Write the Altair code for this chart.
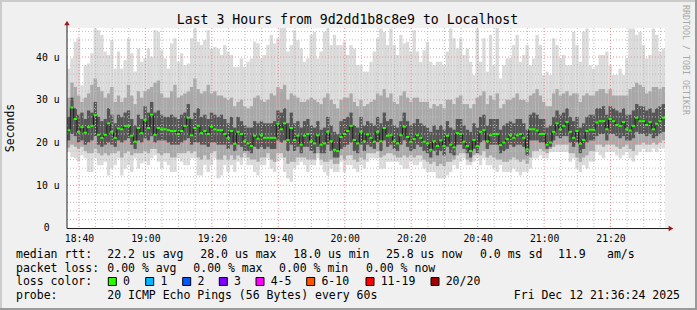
import altair as alt
import pandas as pd

# ---------------- data ----------------
START = 36.4          # minutes after 18:00  (18:36:24)
SPAN = 180            # 3 hours
Y_MAX = 46.8          # top of the value axis (microseconds)

median = [
    22.9, 28.2, 25.5, 22.5, 23.6, 22.3, 23.6, 23.9, 26.4, 21.8, 21.1, 21.8, 24.5, 22.5, 21.1,
    23.3, 23.1, 23.9, 23.9, 21.6, 20.2, 23.4, 22.2, 25.3, 23.4, 26.5, 21.8, 23.4, 23.1, 23.1,
    22.9, 22.7, 22.7, 22.0, 22.7, 23.9, 25.8, 21.7, 23.4, 23.9, 22.2, 22.7, 22.0, 23.7, 23.1,
    22.9, 22.9, 22.0, 21.1, 22.7, 19.7, 22.5, 22.0, 20.3, 19.8, 19.2, 21.6, 20.9, 21.7, 21.1,
    21.1, 21.1, 21.1, 24.4, 23.1, 24.5, 20.6, 23.4, 20.6, 21.6, 19.5, 21.6, 22.0, 20.3, 19.8,
    21.7, 19.5, 19.8, 22.5, 20.3, 18.3, 18.0, 21.3, 22.0, 22.7, 23.9, 20.6, 19.8, 22.5, 20.3,
    21.9, 21.1, 20.2, 22.5, 20.3, 23.4, 21.6, 21.7, 20.3, 19.8, 21.7, 23.7, 21.3, 20.2, 20.8,
    21.7, 21.1, 20.2, 19.8, 18.3, 20.3, 19.2, 20.5, 19.2, 21.6, 19.5, 18.9, 22.2, 22.0, 20.2,
    19.2, 18.0, 20.6, 19.2, 22.5, 22.9, 20.3, 21.7, 22.0, 22.0, 19.4, 20.0, 20.8, 21.7, 21.1,
    21.7, 22.0, 21.1, 18.4, 23.1, 23.1, 22.8, 22.0, 22.0, 19.5, 20.0, 22.5, 24.5, 23.1, 23.9,
    24.8, 22.5, 21.1, 22.7, 19.7, 20.6, 22.7, 23.0, 23.0, 24.7, 25.0, 25.0, 23.1, 25.5, 25.0,
    24.1, 23.9, 24.8, 23.1, 22.8, 23.9, 25.8, 25.0, 25.0, 24.1, 24.8, 23.1, 24.4, 25.0, 25.8,
]

smoke_max = [
    37.3, 39.7, 43.6, 44.4, 33.4, 38.1, 38.5, 40.9, 46.7, 46.3, 45.2, 41.3, 40.5, 44.0, 37.3,
    41.3, 37.3, 39.3, 44.4, 40.9, 36.6, 42.0, 38.9, 39.7, 42.0, 40.1, 46.3, 45.9, 41.6, 39.7,
    37.3, 43.2, 44.4, 38.9, 40.9, 38.1, 38.5, 44.4, 46.7, 43.6, 42.8, 44.0, 46.3, 42.0, 42.4,
    42.0, 40.5, 42.8, 41.3, 40.5, 37.7, 37.7, 39.7, 37.7, 38.9, 39.7, 43.6, 43.2, 39.7, 40.5,
    42.8, 45.2, 43.2, 44.4, 46.8, 46.8, 41.3, 42.8, 46.3, 44.0, 42.0, 38.9, 39.7, 45.2, 45.9,
    39.7, 41.3, 45.9, 46.7, 42.8, 45.2, 42.8, 42.8, 43.6, 40.5, 42.8, 42.0, 38.1, 38.1, 36.6,
    36.6, 38.9, 41.3, 44.4, 46.7, 45.9, 42.8, 46.7, 42.8, 40.5, 45.2, 43.2, 43.6, 41.3, 46.3,
    41.3, 38.9, 41.6, 43.6, 38.9, 38.1, 38.9, 38.9, 38.1, 41.3, 46.7, 44.4, 42.0, 44.4, 40.5,
    42.0, 38.9, 35.8, 46.7, 38.9, 44.4, 36.6, 45.2, 38.1, 46.8, 35.0, 38.1, 39.7, 39.7, 42.8,
    45.2, 38.9, 40.5, 42.8, 38.1, 39.7, 45.2, 42.8, 35.8, 36.6, 35.8, 44.4, 42.8, 39.7, 40.5,
    38.1, 38.1, 45.9, 42.8, 38.9, 45.9, 46.7, 38.1, 37.3, 38.1, 40.5, 40.5, 41.3, 38.1, 35.8,
    35.8, 37.3, 35.8, 39.7, 46.7, 46.7, 45.2, 45.9, 42.8, 39.7, 40.5, 46.7, 45.2, 41.3, 42.0,
]

smoke_min = [
    17.8, 16.6, 16.3, 15.5, 17.0, 16.3, 13.1, 13.1, 16.3, 14.7, 14.7, 15.5, 12.3, 13.9, 14.7,
    16.3, 12.3, 13.9, 14.7, 13.1, 16.3, 13.9, 15.1, 15.5, 14.7, 16.3, 17.0, 15.5, 13.9, 15.5,
    14.7, 13.1, 13.1, 16.3, 15.5, 14.7, 14.7, 16.3, 16.3, 12.3, 12.3, 14.7, 13.1, 14.7, 16.3,
    11.6, 12.3, 14.7, 13.1, 14.7, 13.1, 15.5, 14.7, 16.3, 14.7, 14.7, 13.1, 12.3, 14.7, 14.7,
    16.3, 13.9, 13.1, 15.5, 16.3, 13.1, 11.6, 10.8, 13.9, 14.7, 15.5, 14.7, 13.1, 14.7, 14.7,
    16.3, 14.7, 13.1, 12.3, 13.9, 13.1, 13.1, 15.5, 13.1, 14.7, 14.7, 13.9, 13.1, 14.7, 13.9,
    15.5, 16.3, 16.3, 16.3, 13.9, 13.9, 15.5, 15.5, 15.5, 15.5, 14.7, 13.9, 13.9, 15.5, 14.7,
    14.7, 15.5, 13.9, 13.1, 13.1, 13.1, 11.6, 11.6, 11.6, 12.3, 13.1, 14.7, 13.9, 15.5, 16.3,
    14.7, 14.7, 15.5, 16.3, 14.7, 16.3, 14.7, 14.7, 13.9, 13.1, 14.7, 13.1, 13.1, 13.1, 13.9,
    13.1, 12.3, 13.1, 13.1, 13.9, 16.3, 16.3, 17.0, 16.3, 16.3, 17.8, 17.8, 17.8, 17.8, 17.8,
    17.8, 15.5, 16.3, 13.9, 13.1, 14.7, 13.9, 15.5, 15.5, 17.8, 17.0, 16.3, 17.8, 17.8, 17.8,
    17.0, 16.3, 17.0, 17.8, 16.3, 15.5, 17.0, 17.8, 18.6, 17.8, 17.8, 18.6, 17.8, 18.6, 18.6,
]

smoke_mid_hi = [
    30.5, 34.0, 33.0, 31.0, 29.5, 30.5, 31.5, 33.5, 35.0, 33.0, 32.0, 30.5, 31.5, 33.0, 29.5,
    31.0, 29.5, 30.5, 33.5, 31.0, 29.0, 32.0, 30.5, 32.0, 32.5, 33.0, 34.0, 34.5, 31.5, 30.5,
    30.5, 32.0, 33.5, 30.5, 31.0, 31.5, 32.0, 33.0, 35.0, 32.5, 31.5, 32.0, 33.5, 31.5, 32.0,
    31.0, 31.0, 30.5, 30.0, 30.5, 28.5, 29.5, 30.0, 28.5, 28.0, 28.5, 30.5, 31.0, 30.0, 29.5,
    30.0, 31.5, 31.0, 33.0, 32.5, 33.5, 30.0, 31.5, 31.0, 30.5, 29.5, 29.5, 30.0, 30.5, 30.0,
    29.5, 29.0, 30.5, 31.5, 30.0, 29.0, 28.0, 30.0, 30.5, 30.5, 31.5, 29.5, 28.5, 30.0, 28.5,
    29.0, 29.5, 30.0, 31.5, 31.0, 32.5, 30.5, 31.5, 29.5, 29.0, 31.0, 32.0, 30.5, 29.5, 30.5,
    30.5, 29.5, 29.5, 29.5, 28.0, 29.0, 28.5, 29.0, 28.0, 30.0, 30.0, 29.0, 30.5, 31.0, 29.0,
    29.0, 28.0, 29.0, 30.5, 31.0, 32.0, 29.0, 31.0, 30.0, 31.5, 28.0, 29.0, 30.0, 30.0, 30.5,
    31.5, 30.0, 30.0, 29.5, 31.0, 31.5, 32.5, 31.0, 29.5, 28.5, 28.5, 31.5, 32.5, 31.0, 31.5,
    32.0, 31.0, 31.5, 31.5, 29.5, 31.0, 31.5, 31.0, 31.0, 32.0, 32.5, 32.5, 31.5, 32.5, 31.0,
    31.0, 31.0, 31.0, 31.0, 32.5, 33.0, 34.0, 33.5, 33.0, 31.5, 32.0, 33.0, 33.0, 32.5, 33.0,
]

smoke_mid_lo = [
    18.8, 19.5, 19.0, 18.5, 19.0, 18.0, 17.5, 17.5, 18.5, 17.5, 17.0, 17.5, 17.0, 17.5, 17.5,
    18.0, 16.5, 17.5, 18.0, 17.0, 17.5, 17.5, 17.5, 18.0, 17.5, 18.5, 18.5, 17.5, 17.0, 17.5,
    17.5, 16.5, 16.5, 17.5, 17.5, 17.5, 18.0, 17.5, 18.0, 16.5, 16.0, 17.0, 16.0, 17.5, 18.0,
    16.0, 16.0, 17.0, 16.0, 17.0, 16.0, 17.0, 16.5, 17.5, 16.5, 16.0, 16.0, 15.5, 16.5, 16.5,
    17.5, 16.0, 15.5, 17.5, 17.5, 16.5, 15.0, 15.5, 15.5, 16.5, 16.5, 16.5, 16.0, 16.0, 16.0,
    17.5, 16.0, 15.5, 15.5, 16.0, 15.0, 15.0, 17.0, 16.0, 17.0, 17.0, 16.0, 15.5, 16.5, 16.0,
    17.5, 17.5, 17.5, 18.0, 16.5, 17.0, 17.5, 17.5, 17.0, 16.5, 16.5, 17.0, 16.5, 17.0, 16.5,
    17.0, 17.0, 16.0, 15.5, 15.0, 15.5, 14.5, 15.0, 14.5, 15.5, 15.5, 16.0, 17.0, 17.5, 17.5,
    16.0, 15.5, 17.0, 17.5, 17.0, 18.0, 16.5, 17.0, 16.5, 16.0, 16.0, 15.5, 15.5, 16.0, 16.5,
    16.0, 15.5, 16.0, 15.0, 16.5, 18.0, 18.0, 18.5, 18.0, 17.5, 18.5, 19.0, 19.5, 19.5, 19.5,
    19.5, 17.5, 17.5, 16.5, 15.5, 16.5, 17.0, 18.0, 18.0, 19.5, 19.5, 19.0, 19.5, 19.5, 19.5,
    19.0, 18.5, 19.0, 19.5, 18.5, 18.0, 19.5, 19.5, 20.0, 19.5, 19.5, 20.0, 19.5, 20.0, 20.5,
]

smoke_core_hi = [
    26.0, 30.5, 28.0, 26.5, 27.0, 25.5, 27.5, 27.0, 29.5, 26.0, 25.0, 25.5, 28.0, 26.5, 24.5,
    26.5, 26.0, 27.0, 27.5, 25.5, 24.0, 26.5, 25.5, 28.5, 27.0, 29.5, 27.0, 27.5, 26.5, 26.0,
    26.0, 26.5, 26.0, 25.5, 26.5, 27.0, 29.0, 25.5, 27.0, 28.0, 26.0, 26.5, 25.5, 27.0, 26.5,
    26.0, 26.5, 25.5, 24.5, 26.0, 23.5, 26.0, 25.0, 24.0, 23.5, 23.5, 25.0, 24.5, 25.0, 24.5,
    24.5, 24.5, 25.0, 27.5, 27.0, 28.0, 24.5, 27.0, 24.5, 25.0, 23.5, 25.0, 25.5, 24.0, 23.5,
    25.0, 23.0, 23.5, 26.0, 24.0, 22.5, 22.0, 25.0, 25.5, 26.0, 27.0, 24.0, 23.5, 26.0, 24.0,
    25.0, 24.5, 24.0, 26.0, 24.5, 27.0, 25.0, 25.5, 24.0, 23.5, 25.0, 27.0, 25.0, 24.0, 24.5,
    25.5, 24.5, 24.0, 23.5, 22.5, 24.0, 23.0, 24.0, 23.0, 25.0, 23.5, 23.0, 25.5, 25.5, 24.0,
    23.0, 22.5, 24.5, 23.5, 26.0, 26.5, 24.0, 25.5, 25.5, 25.5, 23.0, 24.0, 24.5, 25.0, 24.5,
    25.5, 25.5, 24.5, 23.0, 26.5, 27.0, 26.5, 25.5, 25.5, 23.5, 24.0, 26.0, 27.5, 26.5, 27.0,
    28.0, 26.0, 25.0, 26.0, 23.5, 24.5, 26.0, 26.5, 26.5, 28.0, 28.0, 28.5, 26.5, 28.5, 28.0,
    27.5, 27.0, 28.0, 26.5, 26.5, 27.5, 29.0, 28.5, 28.5, 27.5, 28.0, 27.0, 28.0, 28.5, 29.0,
]

smoke_core_lo = [
    20.5, 22.0, 21.5, 20.0, 20.5, 19.5, 20.0, 20.5, 21.5, 19.5, 19.0, 19.5, 20.0, 19.5, 19.0,
    20.5, 20.0, 20.5, 21.0, 19.5, 18.5, 20.5, 20.0, 21.0, 20.5, 21.5, 20.0, 20.5, 20.5, 20.5,
    20.0, 19.5, 19.5, 19.5, 20.0, 20.5, 21.0, 19.5, 20.0, 20.0, 19.5, 19.5, 19.0, 20.0, 20.0,
    19.5, 19.5, 19.5, 18.5, 19.5, 18.0, 19.5, 19.0, 18.0, 18.0, 17.5, 19.0, 18.5, 19.0, 18.5,
    19.0, 18.5, 18.5, 20.5, 20.0, 20.5, 18.0, 19.5, 18.0, 19.0, 17.5, 19.0, 19.0, 18.0, 17.5,
    19.0, 17.5, 17.5, 19.5, 18.0, 16.5, 16.5, 18.5, 19.0, 19.5, 20.0, 18.0, 17.5, 19.5, 18.0,
    19.5, 19.0, 18.5, 20.0, 18.0, 20.5, 19.0, 19.5, 18.5, 18.0, 19.5, 20.5, 19.0, 18.0, 18.5,
    19.5, 19.0, 18.0, 17.5, 16.5, 18.0, 17.0, 18.0, 17.0, 19.0, 17.5, 17.0, 19.5, 19.5, 18.5,
    17.5, 16.5, 18.5, 17.5, 20.0, 20.5, 18.5, 19.5, 19.5, 19.5, 17.5, 18.0, 18.5, 19.5, 19.0,
    19.5, 19.5, 19.0, 17.0, 20.5, 20.5, 20.5, 20.0, 20.0, 18.5, 19.0, 20.5, 21.5, 21.0, 21.5,
    21.5, 20.0, 19.0, 20.0, 17.5, 18.5, 20.0, 20.5, 20.5, 21.5, 22.0, 22.0, 20.5, 22.0, 22.0,
    21.5, 21.0, 21.5, 20.5, 20.5, 21.0, 22.5, 22.0, 22.0, 21.5, 22.0, 21.0, 21.5, 22.0, 22.5,
]

TIME_LABELS = ["18:40", "19:00", "19:20", "19:40", "20:00", "20:20", "20:40", "21:00", "21:20"]
Y_TICKS = [0, 10, 20, 30, 40]

TITLE = "Last 3 Hours from 9d2dd1b8c8e9 to Localhost"
LOSS_NAMES = ["0", "1", "2", "3", "4-5", "6-10", "11-19", "20/20"]
LOSS_COLORS = ["#26ff00", "#00b8ff", "#0059ff", "#7e00ff", "#ff00ff", "#ff5500", "#ff0000", "#a10000"]

# ---------------- tables ----------------
n = len(median)
df = pd.DataFrame({
    "t0": [START + i for i in range(n)],
    "t1": [START + i + 1 for i in range(n)],
    "med": median,
    "mx": smoke_max, "mn": smoke_min,
    "mh": smoke_mid_hi, "ml": smoke_mid_lo,
    "ch": smoke_core_hi, "cl": smoke_core_lo,
})
line_df = pd.concat([df[["t0", "med"]],
                     pd.DataFrame({"t0": [df["t1"].iloc[-1]], "med": [median[-1]]})],
                    ignore_index=True)

def to_min(s):
    h, m = s.split(":")
    return (int(h) - 18) * 60 + int(m)

major_x = [to_min(s) for s in TIME_LABELS]
minor_x = [m for m in range(40, int(START + SPAN), 5) if m not in major_x]
major_y = [v for v in Y_TICKS if v > 0]
minor_y = [v for v in range(2, int(Y_MAX) + 1, 2) if v % 10]

# ---------------- layout ----------------
W, H = 598, 200
OX, OY = 67, 28          # plot-area origin on the page
MONO = "DejaVu Sans Mono"

xs = alt.Scale(domain=[START, START + SPAN], nice=False, zero=False)
ys = alt.Scale(domain=[0, Y_MAX], nice=False, zero=False)

x_axis = alt.Axis(values=major_x, grid=False, domain=False, ticks=False, title=None,
                  labelFont=MONO, labelFontSize=9.75, labelColor="#000", labelPadding=5,
                  labelExpr="format(18 + floor(datum.value / 60), '02d') + ':' + format(datum.value % 60, '02d')")
y_axis = alt.Axis(values=[v for v in Y_TICKS if v > 0], grid=False, domain=False, ticks=False,
                  title=None, labelFont=MONO, labelFontSize=9.75, labelColor="#000", labelPadding=8,
                  labelExpr="datum.value + ' u'")

def X(field):
    return alt.X(field, scale=xs, axis=x_axis)

def Y(field):
    return alt.Y(field, scale=ys, axis=y_axis)

base = alt.Chart(df)

def band(lo, hi, color):
    return base.mark_rect(color=color, clip=True, strokeWidth=0).encode(
        x=X("t0:Q"), x2="t1:Q", y=Y(f"{lo}:Q"), y2=f"{hi}:Q")

outer = band("mn", "mx", "#dadada")
mid = band("ml", "mh", "#a8a8a8")
core = band("cl", "ch", "#555555")

def vgrid(vals, color):
    return alt.Chart(pd.DataFrame({"v": vals})).mark_rule(
        color=color, strokeWidth=1, strokeDash=[1, 2]).encode(x=X("v:Q"))

def hgrid(vals, color):
    return alt.Chart(pd.DataFrame({"v": vals})).mark_rule(
        color=color, strokeWidth=1, strokeDash=[1, 2]).encode(y=Y("v:Q"))

GRID_MINOR = "#bdbdbd"
GRID_MAJOR = "#ee8c8c"
grids = [vgrid(minor_x, GRID_MINOR), hgrid(minor_y, GRID_MINOR),
         vgrid(major_x, GRID_MAJOR), hgrid(major_y, GRID_MAJOR)]

med_step = alt.Chart(line_df).mark_line(interpolate="step-after", color="#1a1a1a",
                                        strokeWidth=1).encode(x=X("t0:Q"), y=Y("med:Q"))
med_green = base.mark_rule(color="#26ff00", strokeWidth=2).encode(
    x=X("t0:Q"), x2="t1:Q", y=Y("med:Q"))

ONE = pd.DataFrame({"k": [0]})

def rule(x1, y1, x2, y2, color, width=1):
    return alt.Chart(ONE).mark_rule(color=color, strokeWidth=width).encode(
        x=alt.value(x1 - OX), x2=alt.value(x2 - OX), y=alt.value(y1 - OY), y2=alt.value(y2 - OY))

def text(s, x, y, size=11.5, align="left", baseline="alphabetic", color="#000", angle=None):
    kw = dict(text=s, fontSize=size, align=align, baseline=baseline, color=color, font=MONO)
    if angle is not None:
        kw["angle"] = angle
    return alt.Chart(ONE).mark_text(**kw).encode(x=alt.value(x - OX), y=alt.value(y - OY))

def box(x, y, color):
    return alt.Chart(ONE).mark_rect(color=color, stroke="#000", strokeWidth=1).encode(
        x=alt.value(x - OX), x2=alt.value(x + 8 - OX), y=alt.value(y - OY), y2=alt.value(y + 8 - OY))

AXIS_C = "#202020"
ARROW_C = "#a01818"
frame = [
    rule(0, 1, 697, 1, "#cbcbcb", 2), rule(1, 0, 1, 310, "#cbcbcb", 2),
    rule(0, 309, 697, 309, "#9a9a9a", 2), rule(696, 0, 696, 310, "#9a9a9a", 2),
    rule(67, 228.5, 669, 228.5, AXIS_C, 1), rule(67, 228.5, 67, 25, AXIS_C, 1),
    alt.Chart(ONE).mark_point(shape="triangle-right", filled=True, color=ARROW_C, size=30, opacity=1)
        .encode(x=alt.value(671 - OX), y=alt.value(228.5 - OY)),
    alt.Chart(ONE).mark_point(shape="triangle-up", filled=True, color=ARROW_C, size=30, opacity=1)
        .encode(x=alt.value(67 - OX), y=alt.value(23 - OY)),
]

texts = [
    text(TITLE, 347.5, 24, size=13.2, align="center"),
    text("Seconds", 14, 128, size=11.5, align="center", angle=270),
    text("RRDTOOL / TOBI OETIKER", 685, 5, size=8.3, color="#a8a8a8", angle=90, baseline="middle"),
    text(str(Y_TICKS[0]), 49.5, 228.3, size=9.75, align="right", baseline="middle"),
    text("median rtt:", 16, 258), text("22.2 us avg", 107.3, 258), text("28.0 us max", 200.3, 258),
    text("18.0 us min", 293.3, 258), text("25.8 us now", 386, 258), text("0.0 ms sd", 480, 258),
    text("11.9", 558, 258), text("am/s", 607, 258),
    text("packet loss:", 16, 271.7), text("0.00 % avg", 107.3, 271.7), text("0.00 % max", 193.3, 271.7),
    text("0.00 % min", 279, 271.7), text("0.00 % now", 366, 271.7),
    text("loss color:", 16, 285.4),
    text("probe:", 16, 299.1), text("20 ICMP Echo Pings (56 Bytes) every 60s", 107.3, 299.1),
    text("Fri Dec 12 21:36:24 2025", 680, 299.1, align="right"),
]
box_left = [108.3, 145.7, 182.7, 219.3, 256, 306.7, 366, 431]
legend = []
for name, col, bx in zip(LOSS_NAMES, LOSS_COLORS, box_left):
    legend.append(box(bx, 277.5, col))
    legend.append(text(name, bx + 14.7, 285.4))

chart = alt.layer(outer, mid, core, *grids, med_step, med_green, *frame, *texts, *legend).properties(
    width=W, height=H,
    autosize=alt.AutoSizeParams(type="none"),
    padding={"left": OX, "top": OY, "right": 697 - OX - W, "bottom": 310 - OY - H},
    background="#f0f0f0",
).configure_view(fill="#ffffff", stroke=None)

chart.save("out.html", embed_options={"renderer": "svg", "actions": False})
